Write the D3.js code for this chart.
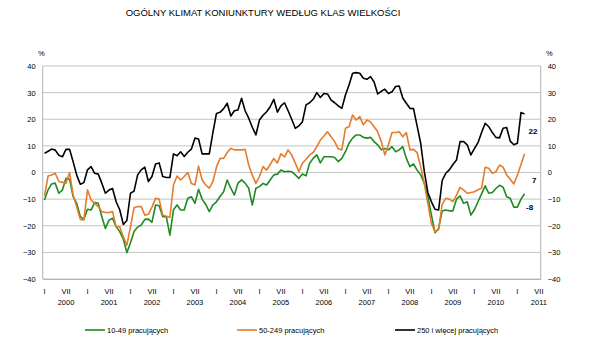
<!DOCTYPE html>
<html>
<head>
<meta charset="utf-8">
<script src="https://cdn.jsdelivr.net/npm/d3@7/dist/d3.min.js"></script>
<style>
  html, body { margin: 0; padding: 0; background: #fff; }
  svg { display: block; font-family: "Liberation Sans", Arial, sans-serif; }
</style>
</head>
<body>
<svg id="chart" width="600" height="340"></svg>
<script>
// Monthly business climate indicator (balance, %) by enterprise size class,
// January 2000 – March 2011.
const monthCount = 139;               // I 2000 … VII 2011 on the category axis
const monthTicks = ["I", "VII"];
const years = [2000, 2001, 2002, 2003, 2004, 2005, 2006, 2007, 2008, 2009, 2010, 2011];
const yTicks = [-40, -30, -20, -10, 0, 10, 20, 30, 40];

const seriesNames = ["10-49 pracujących", "50-249 pracujących", "250 i więcej pracujących"];

const small = [
  -10.3, -6.5, -4.3, -4, -7.8, -6.6, -2.2, -2.5, -9.1, -11.6,
  -16.6, -17.6, -13.8, -14.1, -11.3, -11.6, -16.6, -21, -17.9, -17.2,
  -20.4, -22.2, -25, -30.1, -26.4, -22.2, -20.5, -19.7, -17.6, -17.5,
  -18.7, -12.2, -12.5, -16.6, -16.6, -23.5, -14, -12.2, -14.1, -14.1,
  -9.7, -9.1, -11.6, -6.3, -10, -12, -14.7, -12.2, -11, -9,
  -7.2, -2.8, -5.9, -8.5, -4, -2.8, -4, -5.9, -12.2, -5.9,
  -5.3, -4.1, -4.7, -2.8, -0.9, -0.6, 0.9, 0.3, 0.5, 0.3,
  -0.9, -2.2, -0.6, -1.2, 3.5, 5.3, 6.6, 3.6, 5.9, 5.9,
  5.9, 5.6, 4.1, 5.3, 7.8, 11, 12.9, 14.1, 14.1, 13.2,
  12.9, 13.2, 11.6, 10.4, 8.5, 9, 8.5, 9.7, 7.8, 8.5,
  9.7, 5.3, 2.2, 3.2, 0.9, -0.9, -4.1, -9.1, -16, -22.6,
  -21, -14.5, -14.1, -14.4, -14.4, -10, -8.8, -11.6, -11, -16,
  -14, -11, -8, -5, -7.8, -7.5, -6, -4.8, -5.5, -9.1,
  -9.7, -13, -13, -10, -8
];

const medium = [
  -8.8, -1.3, -0.9, -0.3, -3.4, -3.7, -4, 0, -8.5, -13,
  -17.6, -17.8, -6.5, -10.3, -11.6, -12.8, -14.7, -15, -15, -14.7,
  -20.4, -20.4, -24.1, -27.3, -20.4, -13.2, -12.8, -12.8, -16, -15.7,
  -13, -9.7, -10, -16, -16.4, -16.8, -4.7, -1.3, -2.8, -1.5,
  0, -4.1, -4.7, 2.4, -2.8, -4.7, -5.9, -3.4, 2, 5.3,
  5.3, 7.5, 9.1, 8.5, 8.5, 8.5, 8.7, 2.8, -1, -4.1,
  -1.5, 2.2, 0.9, 3, 5.3, 3.6, 7, 5.9, 8.5, 6.6,
  3.5, 0.3, 3.5, 5, 6.6, 7.5, 9.7, 12.2, 13.7, 15.3,
  13.4, 11.6, 8.9, 8.5, 16.6, 17.2, 21.6, 19.7, 21, 17.9,
  19.7, 19, 17.2, 15.3, 11.6, 6.6, 10.4, 15, 15, 15.3,
  13.4, 15, 8.5, 8.7, 7.5, 2.2, -4.1, -11.6, -19.1, -22.2,
  -21.5, -12, -9.7, -10, -10.9, -8.5, -5.6, -6.6, -7.8, -7.5,
  -7.2, -6.5, -5.9, 2, 1.6, -0.3, 0.3, 2.8, 2, -0.9,
  -2.5, -4.3, -1, 3, 7
];

const large = [
  7.2, 8, 8.8, 8.4, 6.5, 5.9, 8.7, 8.7, 4, -1,
  -4.4, -3.8, 1, 2.2, -0.3, -0.6, -4, -7.8, -6.6, -6,
  -11, -14, -19.5, -18, -7.8, -7, -0.9, 1, 2, -3.4,
  -1.5, 3.2, 3.6, -1.5, -1.9, -1.9, 7, 6.3, 7.8, 6,
  7.6, 8.8, 12.9, 12.6, 7, 7, 7, 15, 22.2, 22.6,
  24, 26, 21.2, 23.2, 23.5, 27.9, 23.2, 20.4, 17, 14.1,
  19.7, 21.5, 22.8, 24.7, 27.5, 22.7, 25, 26.2, 23.2, 20,
  16.6, 17.5, 19.1, 25.4, 26.2, 27.5, 30, 28.2, 29.7, 29.5,
  27.2, 26.2, 25, 24.1, 29.1, 32.9, 37.3, 37.5, 37.3, 35.4,
  35, 36, 34, 29.5, 30.5, 31.3, 29.7, 30.3, 32.3, 32.5,
  28, 26, 24.1, 24, 17.5, 11, 0.5, -7.5, -11, -13.8,
  -14.1, -3, -0.3, 1, 3, 4.7, 11.6, 11.6, 10.4, 6.6,
  9, 11.2, 15, 18.5, 17.2, 15, 13.2, 13, 16.6, 16.9,
  11.8, 10.4, 11, 22.5, 22
];

const seriesValues = [small, medium, large];
const seriesColors = ["#1f8a1f", "#e57c2b", "#000000"];

// ---- layout ----
const svg = d3.select("#chart");
const plot = { left: 42.7, right: 540.7, top: 66, bottom: 279 };

const x = d3.scaleBand()
  .domain(d3.range(monthCount))
  .range([plot.left, plot.right])
  .paddingInner(0).paddingOuter(0);
const xc = i => x(i) + x.bandwidth() / 2;

const y = d3.scaleLinear().domain([-40, 40]).range([plot.bottom, plot.top]);

// title
svg.append("text")
  .attr("x", 263).attr("y", 16)
  .attr("text-anchor", "middle")
  .attr("font-size", 9.5)
  .attr("fill", "#000")
  .text("OGÓLNY KLIMAT KONIUNKTURY WEDŁUG KLAS WIELKOŚCI");

// horizontal gridlines
svg.append("g")
  .selectAll("line")
  .data(yTicks)
  .join("line")
  .attr("x1", plot.left).attr("x2", plot.right)
  .attr("y1", d => y(d)).attr("y2", d => y(d))
  .attr("stroke", "#c4c4c4")
  .attr("stroke-width", 1);

// vertical axis lines
[plot.left, plot.right].forEach(px => {
  svg.append("line")
    .attr("x1", px).attr("x2", px)
    .attr("y1", plot.top).attr("y2", plot.bottom)
    .attr("stroke", "#b4b4b4").attr("stroke-width", 1);
});

// left and right value axes
const yAxisLeft = d3.axisLeft(y).tickValues(yTicks).tickSize(0).tickPadding(7);
const yAxisRight = d3.axisRight(y).tickValues(yTicks).tickSize(0).tickPadding(7);

const gl = svg.append("g").attr("transform", `translate(${plot.left},0)`).call(yAxisLeft);
const gr = svg.append("g").attr("transform", `translate(${plot.right},0)`).call(yAxisRight);
[gl, gr].forEach(g => {
  g.select(".domain").remove();
  g.selectAll("text")
    .attr("font-size", 7.5)
    .attr("font-family", "Liberation Sans, Arial, sans-serif")
    .attr("fill", "#000");
});

// unit markers
svg.append("text").attr("x", 38).attr("y", 56).attr("font-size", 7.5).text("%");
svg.append("text").attr("x", 546).attr("y", 56).attr("font-size", 7.5).text("%");

// category axis: month marks at I and VII, years under VII
const tickMonths = [];
years.forEach((yr, k) => {
  monthTicks.forEach((m, j) => {
    const idx = k * 12 + j * 6;
    if (idx < monthCount) tickMonths.push({ idx, label: m, year: yr, mid: j === 1 });
  });
});

const xAxis = d3.axisBottom(x)
  .tickValues(tickMonths.map(t => t.idx))
  .tickFormat(i => tickMonths.find(t => t.idx === i).label)
  .tickSize(0).tickPadding(10);

const gx = svg.append("g").attr("transform", `translate(0,${plot.bottom})`).call(xAxis);
gx.select(".domain").attr("stroke", "#b4b4b4");
gx.selectAll("text")
  .attr("font-size", 7.5)
  .attr("font-family", "Liberation Sans, Arial, sans-serif")
  .attr("fill", "#000");

svg.append("g")
  .selectAll("text")
  .data(tickMonths.filter(t => t.mid))
  .join("text")
  .attr("x", d => xc(d.idx))
  .attr("y", 305)
  .attr("text-anchor", "middle")
  .attr("font-size", 7.5)
  .text(d => d.year);

// series lines
const line = d3.line()
  .x((d, i) => xc(i))
  .y(d => y(d));

svg.append("g")
  .selectAll("path")
  .data(seriesValues)
  .join("path")
  .attr("d", d => line(d))
  .attr("fill", "none")
  .attr("stroke", (d, i) => seriesColors[i])
  .attr("stroke-width", 1.6)
  .attr("stroke-linejoin", "round");

// latest-value labels
const endLabelPos = [
  { dx: 1.5, dy: 16 },   // 10-49
  { dx: 7.5, dy: 29.5 }, // 50-249
  { dx: 4, dy: 20 }      // 250+
];
seriesValues.forEach((vals, i) => {
  const last = vals.length - 1;
  svg.append("text")
    .attr("x", xc(last) + endLabelPos[i].dx)
    .attr("y", y(vals[last]) + endLabelPos[i].dy)
    .attr("font-size", 8)
    .attr("font-weight", "bold")
    .attr("fill", "#000")
    .text(vals[last]);
});

// legend
const legendItems = [
  { x: 85, name: seriesNames[0], color: seriesColors[0] },
  { x: 237, name: seriesNames[1], color: seriesColors[1] },
  { x: 395, name: seriesNames[2], color: seriesColors[2] }
];
const lg = svg.append("g").selectAll("g").data(legendItems).join("g")
  .attr("transform", d => `translate(${d.x},330)`);
lg.append("line")
  .attr("x1", 0).attr("x2", 20).attr("y1", 0).attr("y2", 0)
  .attr("stroke", d => d.color).attr("stroke-width", 1.6);
lg.append("text")
  .attr("x", 22).attr("y", 3)
  .attr("font-size", 7.5)
  .text(d => d.name);
</script>
</body>
</html>
